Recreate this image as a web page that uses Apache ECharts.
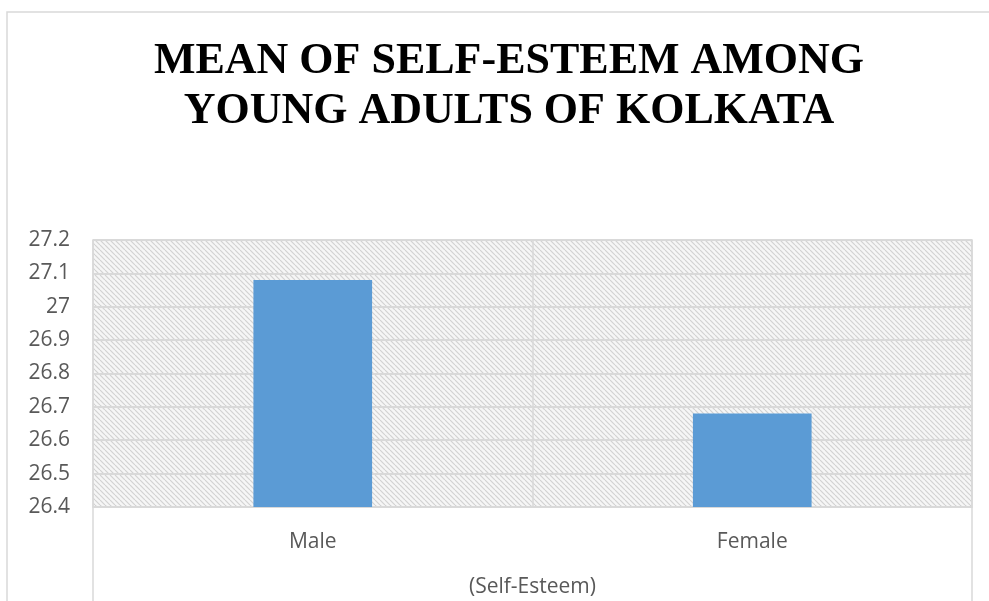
<!DOCTYPE html>
<html><head><meta charset="utf-8">
<script src="https://cdn.jsdelivr.net/npm/echarts@6/dist/echarts.min.js"></script>
<style>html,body{margin:0;padding:0;background:#fff}#c{width:989px;height:601px}</style>
</head><body><div id="c"></div>
<script>
const categories = ['Male', 'Female'];
const values = [27.08, 26.68];
const yTicks = [26.4, 27.2, 0.1];
const titleText = 'MEAN OF SELF-ESTEEM AMONG\nYOUNG ADULTS OF KOLKATA';
const axisName = '(Self-Esteem)';

const pc = document.createElement('canvas');
pc.width = 5; pc.height = 5;
const g = pc.getContext('2d');
g.fillStyle = '#f6f6f6'; g.fillRect(0,0,5,5);
g.strokeStyle = '#d2d2d2'; g.lineWidth = 1.2;
for (let k = -5; k <= 10; k += 5) {
  g.beginPath(); g.moveTo(k, 0); g.lineTo(k + 5, 5); g.stroke();
}

const chart = echarts.init(document.getElementById('c'));
chart.setOption({
  animation: false,
  title: {
    text: titleText, left: 504, top: 32, textAlign: 'center',
    textStyle: { fontFamily: 'Liberation Serif', fontWeight: 'bold', fontSize: 44, lineHeight: 50, color: '#000' }
  },
  graphic: [{
    type: 'rect', shape: { x: 7, y: 12, width: 1000, height: 620 },
    style: { fill: 'none', stroke: '#d9d9d9', lineWidth: 1.5 }, silent: true, z: -10
  }, {
    type: 'line', shape: { x1: 93, y1: 507, x2: 93, y2: 601 },
    style: { stroke: '#d9d9d9', lineWidth: 1.5 }, silent: true
  }, {
    type: 'line', shape: { x1: 972, y1: 507, x2: 972, y2: 601 },
    style: { stroke: '#d9d9d9', lineWidth: 1.5 }, silent: true
  }],
  grid: { left: 93, right: 17, top: 240, bottom: 94, show: true,
    backgroundColor: { image: pc, repeat: 'repeat' }, borderColor: '#d9d9d9', borderWidth: 1.5 },
  xAxis: {
    type: 'category', data: categories,
    name: axisName, nameLocation: 'middle', nameGap: 70,
    nameTextStyle: { fontFamily: 'Open Sans', fontSize: 21, color: '#595959' },
    axisLine: { lineStyle: { color: '#d9d9d9', width: 1.5 } },
    axisTick: { show: false },
    splitLine: { show: true, lineStyle: { color: '#d9d9d9', width: 1.5 } },
    axisLabel: { fontFamily: 'Open Sans', fontSize: 21, color: '#595959', margin: 25 }
  },
  yAxis: {
    type: 'value', min: yTicks[0], max: yTicks[1], interval: yTicks[2],
    axisLine: { show: false }, axisTick: { show: false },
    splitLine: { lineStyle: { color: '#d9d9d9', width: 2 } },
    axisLabel: { fontFamily: 'Open Sans', fontSize: 21, color: '#595959', margin: 23,
      formatter: v => String(Math.round(v * 10) / 10) }
  },
  series: [{
    type: 'bar', data: values, barWidth: '27%',
    itemStyle: { color: '#5b9bd5' }
  }]
});
</script></body></html>
